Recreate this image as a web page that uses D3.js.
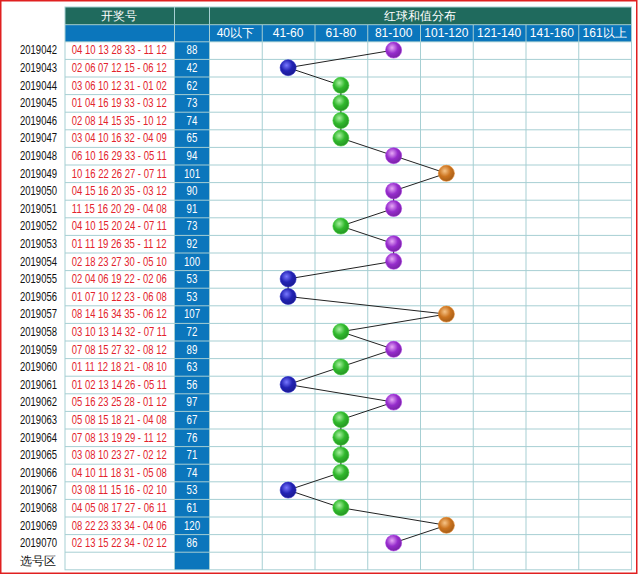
<!DOCTYPE html>
<html>
<head>
<meta charset="utf-8">
<script src="https://cdn.jsdelivr.net/npm/d3@7"></script>
<style>
  body { margin: 0; background: #fff; }
  svg { display: block; font-family: "Liberation Sans", Arial, sans-serif; }
</style>
</head>
<body>
<svg id="chart" width="640" height="575"></svg>
<script>
const issues = ['2019042','2019043','2019044','2019045','2019046','2019047','2019048','2019049',
  '2019050','2019051','2019052','2019053','2019054','2019055','2019056','2019057','2019058',
  '2019059','2019060','2019061','2019062','2019063','2019064','2019065','2019066','2019067',
  '2019068','2019069','2019070'];

const numbers = [
  '04 10 13 28 33 - 11 12', '02 06 07 12 15 - 06 12', '03 06 10 12 31 - 01 02',
  '01 04 16 19 33 - 03 12', '02 08 14 15 35 - 10 12', '03 04 10 16 32 - 04 09',
  '06 10 16 29 33 - 05 11', '10 16 22 26 27 - 07 11', '04 15 16 20 35 - 03 12',
  '11 15 16 20 29 - 04 08', '04 10 15 20 24 - 07 11', '01 11 19 26 35 - 11 12',
  '02 18 23 27 30 - 05 10', '02 04 06 19 22 - 02 06', '01 07 10 12 23 - 06 08',
  '08 14 16 34 35 - 06 12', '03 10 13 14 32 - 07 11', '07 08 15 27 32 - 08 12',
  '01 11 12 18 21 - 08 10', '01 02 13 14 26 - 05 11', '05 16 23 25 28 - 01 12',
  '05 08 15 18 21 - 04 08', '07 08 13 19 29 - 11 12', '03 08 10 23 27 - 02 12',
  '04 10 11 18 31 - 05 08', '03 08 11 15 16 - 02 10', '04 05 08 17 27 - 06 11',
  '08 22 23 33 34 - 04 06', '02 13 15 22 34 - 02 12'];

const sums = [88, 42, 62, 73, 74, 65, 94, 101, 90, 91, 73, 92, 100, 53, 53, 107, 72,
  89, 63, 56, 97, 67, 76, 71, 74, 53, 61, 120, 86];

const bins = ['40以下', '41-60', '61-80', '81-100', '101-120', '121-140', '141-160', '161以上'];
const binLimits = [41, 61, 81, 101, 121, 141, 161];
const extraRow = '选号区';

const svg = d3.select('#chart');

// layout
const tableLeft = 64.5, numRight = 174, sumRight = 209, tableRight = 631;
const headTop = 6.5, headMid = 24.2, bodyTop = 41.3, rowH = 17.6;
const rows = issues.concat([extraRow]);

const x = d3.scaleBand().domain(bins).range([sumRight, tableRight]);
const y = d3.scaleBand().domain(rows).range([bodyTop, bodyTop + rows.length * rowH]);
const binOf = d3.scaleThreshold().domain(binLimits).range(bins);

const gridColor = '#a6cfd3';
const teal = '#1f6a5d';
const blue = '#0b76bc';
const red = '#e3232c';

// table background = grid lines
svg.append('rect')
   .attr('x', tableLeft).attr('y', headTop)
   .attr('width', tableRight + 1 - tableLeft).attr('height', y.range()[1] + 1 - headTop)
   .attr('fill', gridColor);

function cell(x0, y0, x1, y1, fill) {
    return svg.append('rect')
       .attr('x', x0 + 1).attr('y', y0 + 1)
       .attr('width', x1 - x0 - 1).attr('height', y1 - y0 - 1)
       .attr('fill', fill);
}

// narrow text: squeeze horizontally to a target width (reference font is condensed)
function narrowText(cx, cy, str, width, fill) {
    const t = svg.append('text')
       .attr('text-anchor', 'middle').attr('fill', fill).attr('font-size', 12)
       .text(str);
    const natural = t.node().getComputedTextLength();
    t.attr('transform', 'translate(' + cx + ',' + cy + ') scale(' + (width / natural) + ',1)');
    return t;
}

// header row 1
cell(tableLeft, headTop, numRight, headMid, teal);
cell(numRight, headTop, sumRight, headMid, teal);
cell(sumRight, headTop, tableRight, headMid, teal);
svg.append('text')
   .attr('x', (tableLeft + numRight) / 2).attr('y', headMid - 4.5)
   .attr('text-anchor', 'middle').attr('fill', '#fff').attr('font-size', 12)
   .text('开奖号');
svg.append('text')
   .attr('x', (sumRight + tableRight) / 2).attr('y', headMid - 4.5)
   .attr('text-anchor', 'middle').attr('fill', '#fff').attr('font-size', 12)
   .text('红球和值分布');

// header row 2
cell(tableLeft, headMid, numRight, bodyTop, blue);
cell(numRight, headMid, sumRight, bodyTop, blue);
bins.forEach(b => {
    cell(x(b), headMid, x(b) + x.bandwidth(), bodyTop, blue);
    svg.append('text')
       .attr('x', x(b) + x.bandwidth() / 2).attr('y', bodyTop - 4.5)
       .attr('text-anchor', 'middle').attr('fill', '#fff').attr('font-size', 12)
       .text(b);
});

// body rows
rows.forEach((r, i) => {
    const y0 = y(r), y1 = y0 + rowH, cy = y0 + rowH / 2 + 4.2;
    cell(tableLeft, y0, numRight, y1, '#fff');
    cell(numRight, y0, sumRight, y1, blue);
    bins.forEach(b => cell(x(b), y0, x(b) + x.bandwidth(), y1, '#fff'));

    if (i < issues.length) {
        narrowText(38.5, cy, r, 37, '#111');
        narrowText((tableLeft + numRight) / 2, cy, numbers[i], 95, red);
        const s = String(sums[i]);
        narrowText((numRight + sumRight) / 2 + 0.5, cy, s, s.length * 5.4, '#fff');
    } else {
        svg.append('text')
           .attr('x', 38).attr('y', cy)
           .attr('text-anchor', 'middle').attr('fill', '#111').attr('font-size', 12)
           .text(r);
    }
});

// balls
const ballColors = {
    '40以下': ['#ff8080', '#c02020'],
    '41-60': ['#7878ff', '#2222b4'],
    '61-80': ['#a8f0a0', '#30b82c'],
    '81-100': ['#e6a8f6', '#962ccc'],
    '101-120': ['#f6c488', '#cc741f'],
    '121-140': ['#a0e8f0', '#2090a8'],
    '141-160': ['#f0f0a0', '#b0a020'],
    '161以上': ['#d0d0d0', '#707070']
};
const defs = svg.append('defs');
bins.forEach((b, i) => {
    const g = defs.append('radialGradient')
       .attr('id', 'ball' + i)
       .attr('cx', '40%').attr('cy', '35%').attr('r', '65%');
    g.append('stop').attr('offset', '0%').attr('stop-color', ballColors[b][0]);
    g.append('stop').attr('offset', '55%').attr('stop-color', ballColors[b][1]);
    g.append('stop').attr('offset', '100%').attr('stop-color', d3.color(ballColors[b][1]).darker(0.6));
});

const points = issues.map((iss, i) => {
    const b = binOf(sums[i]);
    return { b, cx: x(b) + x.bandwidth() / 2, cy: y(iss) + rowH / 2 };
});

svg.append('path')
   .datum(points)
   .attr('fill', 'none').attr('stroke', '#222').attr('stroke-width', 1)
   .attr('d', d3.line().x(d => d.cx).y(d => d.cy));

svg.selectAll('circle.ball')
   .data(points)
   .enter()
   .append('circle')
   .attr('class', 'ball')
   .attr('cx', d => d.cx)
   .attr('cy', d => d.cy)
   .attr('r', 8)
   .attr('fill', d => 'url(#ball' + bins.indexOf(d.b) + ')')
   .attr('stroke', d => d3.color(ballColors[d.b][1]).brighter(0.3))
   .attr('stroke-width', 0.6);

// outer red frame
svg.append('rect')
   .attr('x', 0.75).attr('y', 0.75)
   .attr('width', 636).attr('height', 572.5)
   .attr('fill', 'none').attr('stroke', '#e02020').attr('stroke-width', 1.5);
</script>
</body>
</html>
